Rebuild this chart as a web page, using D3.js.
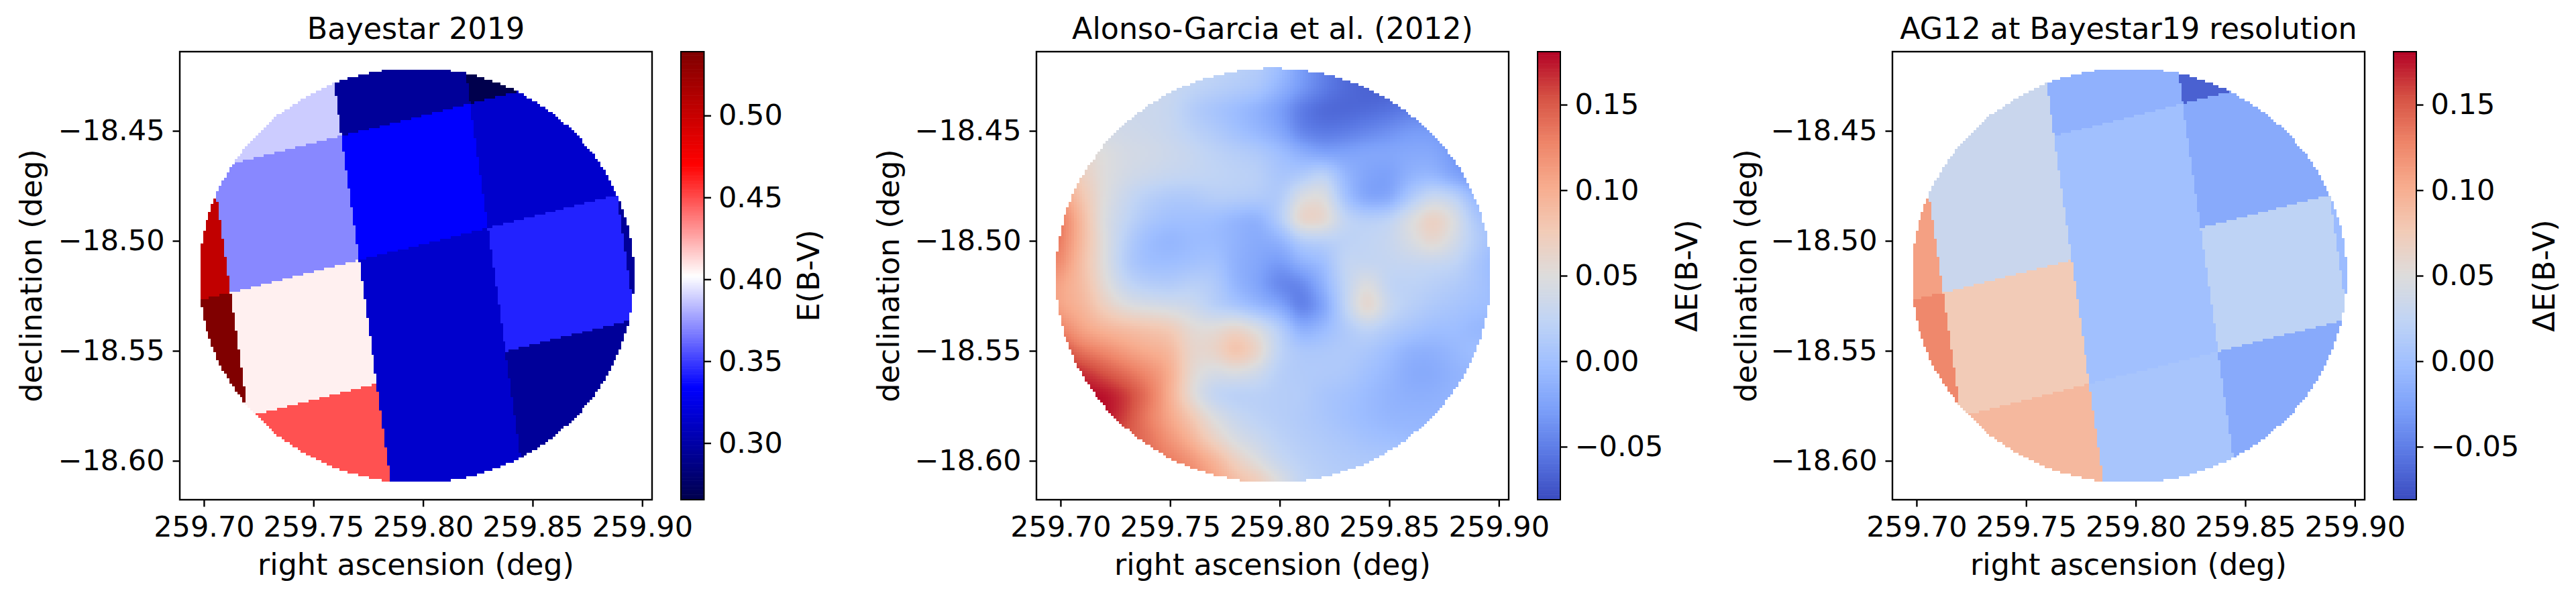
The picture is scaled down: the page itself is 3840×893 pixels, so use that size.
<!DOCTYPE html>
<html>
<head>
<meta charset="utf-8">
<script src="https://cdn.jsdelivr.net/npm/d3@7"></script>
<style>
	body { margin: 0; background: #fff; }
	text { font-family: "DejaVu Sans"; fill: #000; }
</style>
</head>
<body>
<div id="graphHolder"></div>
<script>
	//Width and height
	var w = 3840;
	var h = 893;

	//Tick labels
	var raTicks = [259.70, 259.75, 259.80, 259.85, 259.90];
	var decTicks = [-18.45, -18.50, -18.55, -18.60];
	var bayestarTicks = [0.30, 0.35, 0.40, 0.45, 0.50];
	var deltaTicks = [-0.05, 0.00, 0.05, 0.10, 0.15];

	//Titles
	var titles = ["Bayestar 2019", "Alonso-Garcia et al. (2012)", "AG12 at Bayestar19 resolution"];
	var cbarLabels = ["E(B-V)", "\u0394E(B-V)", "\u0394E(B-V)"];

	//Axis limits in degrees
	var raRange = [259.689, 259.9045];
	var decRange = [-18.414, -18.6177];

	//Field of view
	var fieldCentre = [259.797, -18.5157];
	var fieldRadius = [0.0992, 0.0942];

	//Bayestar pixel edges: columns are RA at dec -18.50, rows are dec at RA 259.80
	var pixelColEdges = [259.7088, 259.7696, 259.8305, 259.8915];
	var pixelRowEdges = [-18.4428, -18.5013, -18.5596];
	var pixelColTilt = 0.1426;
	var pixelRowTilt = 0.2508;

	//E(B-V) per pixel, rows from north to south, columns from low to high RA
	var bayestarValues = [
		[0.3885, 0.3885, 0.2947, 0.2654, 0.3143],
		[0.5040, 0.3702, 0.3338, 0.3143, 0.3143],
		[0.5390, 0.4063, 0.3143, 0.3429, 0.2947],
		[0.5390, 0.4490, 0.3143, 0.2947, 0.2947]
	];

	//AG12 map binned to the same pixels
	var binnedValues = [
		[0.0317, 0.0317, -0.0130, -0.0680, -0.0190],
		[0.1100, 0.0317, 0.0002, -0.0190, -0.0190],
		[0.1260, 0.0760, 0.0002, 0.0225, -0.0040],
		[0.1260, 0.0920, 0.0055, -0.0190, -0.0190]
	];

	//AG12 map read on a 0.01 deg grid
	var agRa = [259.69, 259.70, 259.71, 259.72, 259.73, 259.74, 259.75, 259.76, 259.77, 259.78, 259.79,
		259.80, 259.81, 259.82, 259.83, 259.84, 259.85, 259.86, 259.87, 259.88, 259.89, 259.90];
	var agDec = [-18.42, -18.43, -18.44, -18.45, -18.46, -18.47, -18.48, -18.49, -18.50, -18.51,
		-18.52, -18.53, -18.54, -18.55, -18.56, -18.57, -18.58, -18.59, -18.60, -18.61];
	var agValues = [
		[.035,.035,.035,.035,.035,.03,.03,.03,.025,.02,.015,.0,-.03,-.05,-.065,-.065,-.065,-.06,-.05,-.05,-.05,-.05],
		[.035,.035,.035,.035,.035,.035,.03,.025,.02,.015,.01,-.01,-.03,-.05,-.062,-.068,-.068,-.065,-.055,-.05,-.05,-.05],
		[.04,.04,.04,.04,.035,.033,.03,.012,.003,-.005,-.015,-.03,-.055,-.066,-.066,-.064,-.06,-.053,-.046,-.04,-.04,-.04],
		[.05,.05,.045,.04,.037,.035,.03,.02,.012,.0,-.01,-.022,-.05,-.056,-.053,-.046,-.038,-.03,-.03,-.04,-.04,-.04],
		[.08,.07,.06,.05,.042,.04,.035,.03,.022,.017,.012,.0,-.015,-.03,-.025,-.02,-.02,-.02,-.02,-.035,-.04,-.04],
		[.11,.09,.07,.05,.04,.035,.03,.028,.025,.022,.02,.005,.008,.03,-.01,-.025,-.03,-.012,-.01,-.03,-.04,-.04],
		[.13,.115,.08,.05,.03,.017,.01,.01,.018,.018,.015,.008,.05,.055,-.003,-.03,-.028,.01,.035,.025,-.012,-.02],
		[.15,.14,.09,.045,.025,.008,.0,.0,-.003,-.012,-.018,.015,.075,.07,.025,.02,.025,.05,.078,.05,.005,.0],
		[.15,.135,.09,.05,.015,-.005,-.012,-.005,-.005,-.012,-.02,-.015,.012,.015,.02,.025,.03,.045,.065,.04,.015,-.005],
		[.135,.125,.085,.05,.01,-.003,-.003,.0,.005,-.015,-.022,-.035,-.012,-.005,.03,.025,.028,.028,.027,.025,.005,-.01],
		[.12,.105,.09,.055,.025,.015,.012,.02,.015,-.012,-.025,-.05,-.05,-.012,.025,.055,.02,.022,.018,.012,.005,-.005],
		[.12,.105,.095,.07,.05,.045,.04,.035,.015,.005,-.01,-.02,-.058,-.03,.025,.075,.03,.018,.01,.005,.0,-.003],
		[.15,.13,.105,.095,.09,.085,.08,.055,.055,.07,.05,.02,-.018,-.005,.01,.022,.012,.005,-.002,-.002,-.01,-.01],
		[.17,.16,.135,.125,.11,.10,.095,.06,.065,.095,.07,.02,.01,.01,.012,.008,-.003,-.015,-.015,-.007,.0,.0],
		[.18,.18,.17,.155,.14,.125,.105,.055,.04,.045,.035,.015,.012,.012,.01,.0,-.008,-.02,-.02,-.012,-.01,-.01],
		[.18,.18,.18,.18,.165,.14,.10,.05,.02,.015,.018,.015,.015,.005,.002,-.005,-.012,-.015,-.015,-.01,-.01,-.01],
		[.18,.18,.18,.18,.16,.13,.105,.08,.048,.03,.02,.016,.012,.007,.0,-.005,-.01,-.01,-.01,-.01,-.01,-.01],
		[.16,.16,.16,.16,.15,.14,.117,.095,.065,.042,.032,.02,.015,.011,.007,.001,-.002,-.005,-.005,-.005,-.005,-.005],
		[.14,.14,.14,.14,.14,.14,.135,.12,.10,.07,.048,.028,.02,.015,.012,.01,.01,.01,.01,.01,.01,.01],
		[.14,.14,.14,.14,.14,.14,.14,.13,.11,.09,.08,.05,.025,.018,.015,.012,.01,.01,.01,.01,.01,.01]
	];

	//Colour limits
	var bayestarRange = [0.2654, 0.539];
	var deltaRange = [-0.081, 0.181];

	//matplotlib seismic and coolwarm
	var seismicStops = ["#00004d", "#0000ff", "#ffffff", "#ff0000", "#800000"];
	var coolwarmStops = ["#3b4cc0", "#5977e3", "#7b9ff9", "#9ebeff", "#c0d4f5", "#dddcdc",
		"#f2cbb7", "#f7ac8e", "#ee8468", "#d65244", "#b40426"];

	function makeCmap(stops, range) {
		return d3.scaleLinear()
				 .domain(stops.map(function(d, i) { return range[0] + (range[1] - range[0]) * i / (stops.length - 1); }))
				 .range(stops)
				 .interpolate(d3.interpolateRgb)
				 .clamp(true);
	}

	var seismic = makeCmap(seismicStops, bayestarRange);
	var coolwarm = makeCmap(coolwarmStops, deltaRange);

	//Layout of each panel in pixels
	var panels = [
		{ left: 268, right: 972, barLeft: 1015, barRight: 1049.5, cmap: seismic, range: bayestarRange, ticks: bayestarTicks, labelX: 1221, ylabelX: 62 },
		{ left: 1545, right: 2249, barLeft: 2292, barRight: 2326, cmap: coolwarm, range: deltaRange, ticks: deltaTicks, labelX: 2530, ylabelX: 1340 },
		{ left: 2821, right: 3525, barLeft: 3568, barRight: 3602, cmap: coolwarm, range: deltaRange, ticks: deltaTicks, labelX: 3808, ylabelX: 2618 }
	];
	var plotTop = 77;
	var plotBottom = 745;
	var fontSize = 43;
	var labelSize = 44.4;

	var svg = d3.select("#graphHolder")
				.append("svg")
				.attr("width", w)
				.attr("height", h)
				.style("display", "block");

	function inField(ra, dec) {
		var a = (ra - fieldCentre[0]) / fieldRadius[0];
		var b = (dec - fieldCentre[1]) / fieldRadius[1];
		return a * a + b * b <= 1;
	}

	//which Bayestar pixel a sky position falls in
	function pixelOf(ra, dec) {
		var u = ra + pixelColTilt * (dec + 18.50);
		var v = dec - pixelRowTilt * (ra - 259.80);
		var col = d3.bisectLeft(pixelColEdges, u);
		var row = 0;
		pixelRowEdges.forEach(function(e) { if (v < e) row++; });
		return [row, col];
	}

	//AG12 map sampled finely, bilinear between grid values then blurred a little
	var step = 0.0012;
	var fineRa = d3.range(agRa[0], agRa[agRa.length - 1] + step, step);
	var fineDec = d3.range(agDec[agDec.length - 1], agDec[0] + step, step);

	function agAt(ra, dec) {
		var fx = Math.max(0, Math.min(agRa.length - 1.001, (ra - agRa[0]) / 0.01));
		var fy = Math.max(0, Math.min(agDec.length - 1.001, (agDec[0] - dec) / 0.01));
		var ix = Math.floor(fx), iy = Math.floor(fy);
		var tx = fx - ix, ty = fy - iy;
		return (agValues[iy][ix] * (1 - tx) + agValues[iy][ix + 1] * tx) * (1 - ty) +
			   (agValues[iy + 1][ix] * (1 - tx) + agValues[iy + 1][ix + 1] * tx) * ty;
	}

	var fineGrid = [];
	fineDec.forEach(function(dec) {
		fineRa.forEach(function(ra) { fineGrid.push(agAt(ra, dec)); });
	});
	d3.blur2({ data: fineGrid, width: fineRa.length, height: fineDec.length }, 2);

	panels.forEach(function(p, idx) {

		var x = d3.scaleLinear().domain(raRange).range([p.left, p.right]);
		var y = d3.scaleLinear().domain(decRange).range([plotTop, plotBottom]);
		var dx = x(raRange[0] + step) - x(raRange[0]);
		var dy = y(decRange[0] - step) - y(decRange[0]);

		var g = svg.append("g");

		//Draw map--------------------------------------------------------------
		if (idx == 1) {
			var cells = [];
			fineDec.forEach(function(dec, j) {
				fineRa.forEach(function(ra, i) {
					if (inField(ra, dec)) {
						cells.push([ra, dec, fineGrid[j * fineRa.length + i]]);
					}
				});
			});
			g.selectAll("rect")
			 .data(cells)
			 .enter()
			 .append("rect")
			 .attr("x", function(d) { return x(d[0] - step / 2); })
			 .attr("y", function(d) { return y(d[1] + step / 2); })
			 .attr("width", dx + 0.4)
			 .attr("height", dy + 0.4)
			 .attr("fill", function(d) { return p.cmap(d[2]); })
			 .attr("shape-rendering", "crispEdges");
		} else {
			var values = idx == 0 ? bayestarValues : binnedValues;
			var paths = {};
			d3.range(fieldCentre[1] - fieldRadius[1], fieldCentre[1] + fieldRadius[1], step).forEach(function(dec) {
				d3.range(fieldCentre[0] - fieldRadius[0], fieldCentre[0] + fieldRadius[0], step).forEach(function(ra) {
					if (!inField(ra, dec)) return;
					var cell = pixelOf(ra, dec);
					var key = cell.join("_");
					if (!paths[key]) paths[key] = { path: d3.path(), value: values[cell[0]][cell[1]] };
					paths[key].path.rect(x(ra - step / 2), y(dec + step / 2), dx + 0.4, dy + 0.4);
				});
			});
			g.selectAll("path")
			 .data(Object.values(paths))
			 .enter()
			 .append("path")
			 .attr("d", function(d) { return d.path.toString(); })
			 .attr("fill", function(d) { return p.cmap(d.value); })
			 .attr("shape-rendering", "crispEdges");
		}

		//Axes------------------------------------------------------------------
		var xAxis = d3.axisBottom(x)
					  .tickValues(raTicks)
					  .tickFormat(d3.format(".2f"))
					  .tickSizeInner(10.5)
					  .tickSizeOuter(0)
					  .tickPadding(14);
		var yAxis = d3.axisLeft(y)
					  .tickValues(decTicks)
					  .tickFormat(d3.format(".2f"))
					  .tickSizeInner(10.5)
					  .tickSizeOuter(0)
					  .tickPadding(12);

		var gx = svg.append("g").attr("transform", "translate(0," + plotBottom + ")").call(xAxis);
		var gy = svg.append("g").attr("transform", "translate(" + p.left + ",0)").call(yAxis);

		//Colour bar------------------------------------------------------------
		var barY = d3.scaleLinear().domain(p.range).range([plotBottom, plotTop]);
		var strips = d3.range(256).map(function(i) { return p.range[0] + (p.range[1] - p.range[0]) * i / 255; });

		svg.append("g")
		   .selectAll("rect")
		   .data(strips)
		   .enter()
		   .append("rect")
		   .attr("x", p.barLeft)
		   .attr("y", function(d, i) { return plotBottom - (plotBottom - plotTop) * (i + 1) / 256; })
		   .attr("width", p.barRight - p.barLeft)
		   .attr("height", (plotBottom - plotTop) / 256 + 0.6)
		   .attr("fill", function(d) { return p.cmap(d); });

		var cAxis = d3.axisRight(barY)
					  .tickValues(p.ticks)
					  .tickFormat(d3.format(".2f"))
					  .tickSizeInner(10.5)
					  .tickSizeOuter(0)
					  .tickPadding(11);
		var gc = svg.append("g").attr("transform", "translate(" + p.barRight + ",0)").call(cAxis);

		[gx, gy, gc].forEach(function(a) {
			a.select(".domain").remove();
			a.selectAll("line").attr("stroke", "#000").attr("stroke-width", 2.4);
			a.selectAll("text").style("font-size", fontSize + "px").style("font-family", "DejaVu Sans").attr("fill", "#000");
		});

		//Spines
		svg.append("rect")
		   .attr("x", p.left).attr("y", plotTop)
		   .attr("width", p.right - p.left).attr("height", plotBottom - plotTop)
		   .attr("fill", "none").attr("stroke", "#000").attr("stroke-width", 2.4);
		svg.append("rect")
		   .attr("x", p.barLeft).attr("y", plotTop)
		   .attr("width", p.barRight - p.barLeft).attr("height", plotBottom - plotTop)
		   .attr("fill", "none").attr("stroke", "#000").attr("stroke-width", 2);

		//Text------------------------------------------------------------------
		svg.append("text")
		   .attr("x", (p.left + p.right) / 2)
		   .attr("y", 58)
		   .attr("text-anchor", "middle")
		   .style("font-size", labelSize + "px")
		   .text(titles[idx]);

		svg.append("text")
		   .attr("x", (p.left + p.right) / 2)
		   .attr("y", 857)
		   .attr("text-anchor", "middle")
		   .style("font-size", labelSize + "px")
		   .text("right ascension (deg)");

		svg.append("text")
		   .attr("transform", "translate(" + p.ylabelX + "," + (plotTop + plotBottom) / 2 + ") rotate(-90)")
		   .attr("text-anchor", "middle")
		   .style("font-size", labelSize + "px")
		   .text("declination (deg)");

		svg.append("text")
		   .attr("transform", "translate(" + p.labelX + "," + (plotTop + plotBottom) / 2 + ") rotate(-90)")
		   .attr("text-anchor", "middle")
		   .style("font-size", labelSize + "px")
		   .text(cbarLabels[idx]);
	});
</script>
</body>
</html>
